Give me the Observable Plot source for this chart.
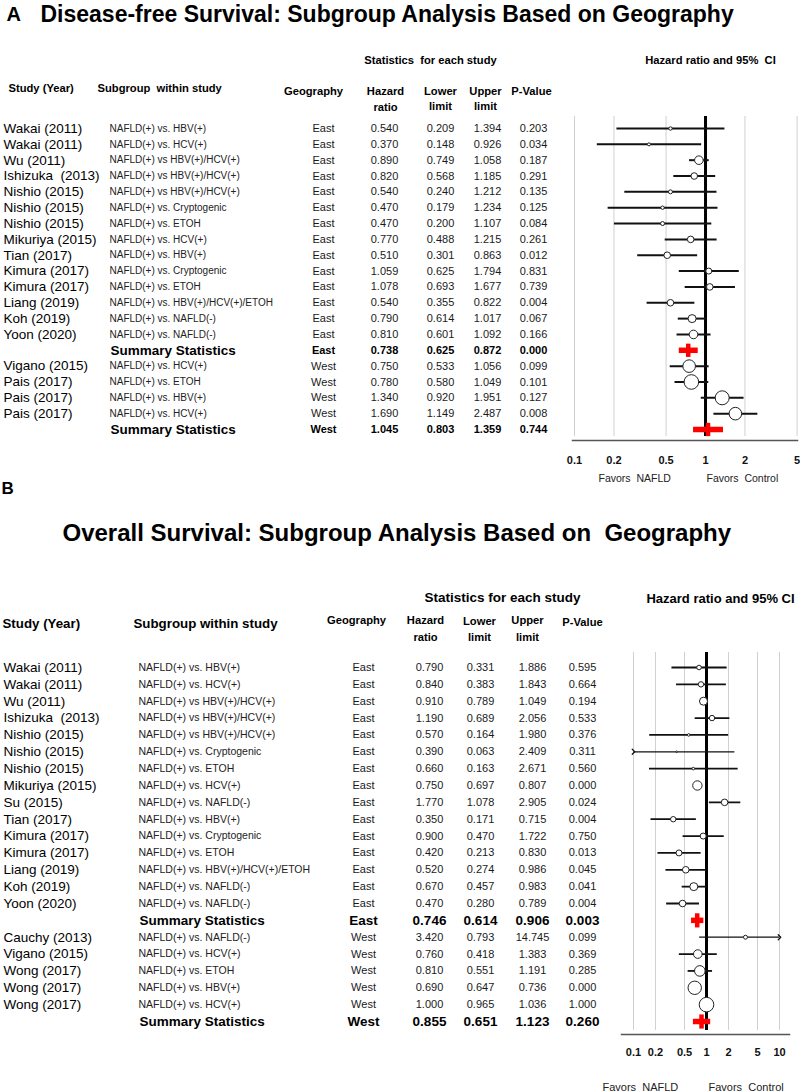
<!DOCTYPE html>
<html><head><meta charset="utf-8">
<script src="https://cdn.jsdelivr.net/npm/d3@7"></script>
<script src="https://cdn.jsdelivr.net/npm/@observablehq/plot@0.6"></script>
<style>
body{margin:0;background:#fff;}
svg{display:block;overflow:visible;}
</style>
</head><body><div id="chart"></div>
<script>
// ---------- Panel A: Disease-free survival ----------
const A_study = ["Wakai (2011)","Wakai (2011)","Wu (2011)","Ishizuka  (2013)","Nishio (2015)","Nishio (2015)","Nishio (2015)","Mikuriya (2015)","Tian (2017)","Kimura (2017)","Kimura (2017)","Liang (2019)","Koh (2019)","Yoon (2020)","","Vigano (2015)","Pais (2017)","Pais (2017)","Pais (2017)",""];
const A_subgroup = ["NAFLD(+) vs. HBV(+)","NAFLD(+) vs. HCV(+)","NAFLD(+) vs HBV(+)/HCV(+)","NAFLD(+) vs HBV(+)/HCV(+)","NAFLD(+) vs HBV(+)/HCV(+)","NAFLD(+) vs. Cryptogenic","NAFLD(+) vs. ETOH","NAFLD(+) vs. HCV(+)","NAFLD(+) vs. HBV(+)","NAFLD(+) vs. Cryptogenic","NAFLD(+) vs. ETOH","NAFLD(+) vs. HBV(+)/HCV(+)/ETOH","NAFLD(+) vs. NAFLD(-)","NAFLD(+) vs. NAFLD(-)","Summary Statistics","NAFLD(+) vs. HCV(+)","NAFLD(+) vs. ETOH","NAFLD(+) vs. HBV(+)","NAFLD(+) vs. HCV(+)","Summary Statistics"];
const A_geo = ["East","East","East","East","East","East","East","East","East","East","East","East","East","East","East","West","West","West","West","West"];
const A_hr    = [0.540,0.370,0.890,0.820,0.540,0.470,0.470,0.770,0.510,1.059,1.078,0.540,0.790,0.810,0.738,0.750,0.780,1.340,1.690,1.045];
const A_lower = [0.209,0.148,0.749,0.568,0.240,0.179,0.200,0.488,0.301,0.625,0.693,0.355,0.614,0.601,0.625,0.533,0.580,0.920,1.149,0.803];
const A_upper = [1.394,0.926,1.058,1.185,1.212,1.234,1.107,1.215,0.863,1.794,1.677,0.822,1.017,1.092,0.872,1.056,1.049,1.951,2.487,1.359];
const A_p     = [0.203,0.034,0.187,0.291,0.135,0.125,0.084,0.261,0.012,0.831,0.739,0.004,0.067,0.166,0.000,0.099,0.101,0.127,0.008,0.744];
const A_weight = [1.7,1.5,4.3,3.3,2,1.7,2,3.3,3.3,3,3.3,3.3,4,4.3,null,6.3,7.3,7,6.3,null]; // marker radius
const A_ticks = [0.1,0.2,0.5,1,2,5];

// ---------- Panel B: Overall survival ----------
const B_study = ["Wakai (2011)","Wakai (2011)","Wu (2011)","Ishizuka  (2013)","Nishio (2015)","Nishio (2015)","Nishio (2015)","Mikuriya (2015)","Su (2015)","Tian (2017)","Kimura (2017)","Kimura (2017)","Liang (2019)","Koh (2019)","Yoon (2020)","","Cauchy (2013)","Vigano (2015)","Wong (2017)","Wong (2017)","Wong (2017)",""];
const B_subgroup = ["NAFLD(+) vs. HBV(+)","NAFLD(+) vs. HCV(+)","NAFLD(+) vs HBV(+)/HCV(+)","NAFLD(+) vs HBV(+)/HCV(+)","NAFLD(+) vs HBV(+)/HCV(+)","NAFLD(+) vs. Cryptogenic","NAFLD(+) vs. ETOH","NAFLD(+) vs. HCV(+)","NAFLD(+) vs. NAFLD(-)","NAFLD(+) vs. HBV(+)","NAFLD(+) vs. Cryptogenic","NAFLD(+) vs. ETOH","NAFLD(+) vs. HBV(+)/HCV(+)/ETOH","NAFLD(+) vs. NAFLD(-)","NAFLD(+) vs. NAFLD(-)","Summary Statistics","NAFLD(+) vs. NAFLD(-)","NAFLD(+) vs. HCV(+)","NAFLD(+) vs. ETOH","NAFLD(+) vs. HBV(+)","NAFLD(+) vs. HCV(+)","Summary Statistics"];
const B_geo = ["East","East","East","East","East","East","East","East","East","East","East","East","East","East","East","East","West","West","West","West","West","West"];
const B_hr    = [0.790,0.840,0.910,1.190,0.570,0.390,0.660,0.750,1.770,0.350,0.900,0.420,0.520,0.670,0.470,0.746,3.420,0.760,0.810,0.690,1.000,0.855];
const B_lower = [0.331,0.383,0.789,0.689,0.164,0.063,0.163,0.697,1.078,0.171,0.470,0.213,0.274,0.457,0.280,0.614,0.793,0.418,0.551,0.647,0.965,0.651];
const B_upper = [1.886,1.843,1.049,2.056,1.980,2.409,2.671,0.807,2.905,0.715,1.722,0.830,0.986,0.983,0.789,0.906,14.745,1.383,1.191,0.736,1.036,1.123];
const B_p     = [0.595,0.664,0.194,0.533,0.376,0.311,0.560,0.000,0.024,0.004,0.750,0.013,0.045,0.041,0.004,0.003,0.099,0.369,0.285,0.000,1.000,0.260];
const B_weight = [2.3,2.7,4,2.7,1.3,0.8,1.3,4.7,3.3,2.7,3,3,3.3,4,3.3,null,2,4.3,5.3,6.7,7.3,null];
const B_ticks = [0.1,0.2,0.5,1,2,5,10];

const FONT = "'Liberation Sans', Arial, Helvetica, sans-serif";
function hasFont(name){
  const c = document.createElement("canvas").getContext("2d");
  const s = "abcdefghijklmnopqrstuvwxyzABCDEF0123456789";
  c.font = "20px monospace"; const a = c.measureText(s).width;
  c.font = `20px "${name}", monospace`; const b = c.measureText(s).width;
  return Math.abs(a-b) > 0.5;
}
const HAS_NARROW = hasFont("Liberation Sans Narrow");
const NARROW = HAS_NARROW ? "'Liberation Sans Narrow', 'Liberation Sans', sans-serif" : FONT;
const nz = (n, r) => HAS_NARROW ? n : r; // size with / without narrow face

function forest(cfg){
  const data = cfg.study.map((s,i)=>({i, study:s, subgroup:cfg.subgroup[i], geo:cfg.geo[i], hr:cfg.hr[i], lower:cfg.lower[i], upper:cfg.upper[i], p:cfg.p[i], size:cfg.weight[i], summary: cfg.subgroup[i]==="Summary Statistics"}));
  const L = cfg.marginLeft, T = cfg.marginTop;
  const [d0,d1] = cfg.xDomain;
  const trials = data.filter(d=>!d.summary);
  const sums = data.filter(d=>d.summary);
  const f3 = v => v.toFixed(3);
  const col = (arr, text, x, o={}) => Plot.text(arr, {y:"i", text, frameAnchor:"left", dx:x-L, textAnchor:o.anchor||"middle", lineAnchor:"middle", fontSize:o.size, fontWeight:o.weight||"normal", fill:o.fill||"#1a1a1a", fontFamily:o.family||FONT});
  const label = (t, x, y, o={}) => Plot.text([t], {frameAnchor:"top-left", dx:x-L, dy:y-T, text:d=>d, textAnchor:o.anchor||"middle", lineAnchor:"middle", fontSize:o.size, fontWeight:o.weight||"bold", fill:o.fill||"#000", fontFamily:o.family||FONT});
  const c = cfg.cols, s = cfg.fonts;
  const marks = [
    Plot.ruleX(cfg.ticks.filter(t=>t!==1), {stroke:"#d0d0d0", strokeWidth:1}),
    Plot.ruleX([1], {stroke:"#000", strokeWidth:3}),
    Plot.frame({anchor:"bottom", stroke:"#555", strokeWidth:1.5, dy:cfg.axisDy}),
    Plot.link(trials.filter(d=>d.lower>=d0 && d.upper<=d1), {x1:"lower", x2:"upper", y1:"i", y2:"i", stroke:"#111", strokeWidth:cfg.ciWidth}),
    Plot.link(trials.filter(d=>d.lower<d0), {x1:"lower", x2:"upper", y1:"i", y2:"i", stroke:"#111", strokeWidth:cfg.ciWidth*0.7, markerStart:"arrow"}),
    Plot.link(trials.filter(d=>d.upper>d1), {x1:"lower", x2:"upper", y1:"i", y2:"i", stroke:"#111", strokeWidth:cfg.ciWidth*0.7, markerEnd:"arrow"}),
    Plot.dot(trials, {x:"hr", y:"i", r:"size", fill:"#fff", stroke:"#222", strokeWidth:1}),
    Plot.link(sums, {x1:"lower", x2:"upper", y1:"i", y2:"i", stroke:"#ff0000", strokeWidth:5.5}),
    Plot.link(sums, {x1:"hr", x2:"hr", y1:d=>d.i-0.42, y2:d=>d.i+0.42, stroke:"#ff0000", strokeWidth:4.5}),
    Plot.text(cfg.ticks, {x:d=>d, frameAnchor:"bottom", dy:cfg.tickDy, text:d=>String(d), fontWeight:"bold", fontSize:cfg.tickFont.size, lineAnchor:"middle", fill:"#111", fontFamily:cfg.tickFont.family}),
    // table columns
    col(trials, "study", c.study, {anchor:"start", size:s.study, fill:"#000"}),
    col(trials, "subgroup", c.subgroup, {anchor:"start", size:s.sub, fill:"#222"}),
    col(trials, "geo", c.geo, {size:s.val}),
    col(trials, d=>f3(d.hr), c.hr, {size:s.val}),
    col(trials, d=>f3(d.lower), c.lower, {size:s.val}),
    col(trials, d=>f3(d.upper), c.upper, {size:s.val}),
    col(trials, d=>f3(d.p), c.p, {size:s.val}),
    col(sums, "subgroup", c.subgroup+1, {anchor:"start", size:s.sumLabel, weight:"bold", fill:"#000"}),
    col(sums, "geo", c.geo, {size:s.sumVal, weight:"bold", fill:"#000"}),
    col(sums, d=>f3(d.hr), c.hr, {size:s.sumVal, weight:"bold", fill:"#000"}),
    col(sums, d=>f3(d.lower), c.lower, {size:s.sumVal, weight:"bold", fill:"#000"}),
    col(sums, d=>f3(d.upper), c.upper, {size:s.sumVal, weight:"bold", fill:"#000"}),
    col(sums, d=>f3(d.p), c.p, {size:s.sumVal, weight:"bold", fill:"#000"}),
    ...cfg.labels.map(([t,x,y,o]) => label(t,x,y,o))
  ];
  return Plot.plot({
    width:800, height:cfg.height,
    marginLeft:cfg.marginLeft, marginRight:cfg.marginRight, marginTop:cfg.marginTop, marginBottom:cfg.marginBottom,
    style:{background:"#fff", fontFamily:FONT, overflow:"visible"},
    x:{type:"log", domain:cfg.xDomain, range:cfg.xRange, clamp:true, axis:null},
    y:{type:"linear", domain:cfg.yDomain, range:cfg.yRange, axis:null},
    r:{type:"identity"},
    marks
  });
}

const hA = {family:NARROW, size:nz(13,11.2)};
const panelA = forest({
  study:A_study, subgroup:A_subgroup, geo:A_geo, hr:A_hr, lower:A_lower, upper:A_upper, p:A_p, weight:A_weight, ticks:A_ticks,
  height:481, marginLeft:572, marginRight:3, marginTop:116, marginBottom:45,
  xDomain:[0.1,5], xRange:[574,796.6], yDomain:[0,19], yRange:[128,429],
  axisDy:4, tickDy:24, ciWidth:2, tickFont:{family:NARROW, size:nz(12.5,11)},
  cols:{study:3, subgroup:109, geo:323, hr:384, lower:440, upper:487, p:533},
  fonts:{study:13.5, sub:10, val:11, sumLabel:13.5, sumVal:11},
  labels:[
    ["A",6,14,{anchor:"start", size:20}],
    ["Disease-free Survival: Subgroup Analysis Based on Geography",40,14,{anchor:"start", size:nz(28.5,23), family:NARROW}],
    ["Statistics  for each study",430,60,hA],
    ["Hazard ratio and 95%  CI",710,60,hA],
    ["Study (Year)",8,88,{anchor:"start", ...hA}],
    ["Subgroup  within study",97,88,{anchor:"start", ...hA}],
    ["Geography",313,91,hA],
    ["Hazard",385,91,hA],["ratio",385,107,hA],
    ["Lower",440,91,hA],["limit",440,106,hA],
    ["Upper",485,91,hA],["limit",485,106,hA],
    ["P-Value",531,91,hA],
    ["Favors  NAFLD",598,478,{anchor:"start", size:nz(11.5,10.5), weight:"normal", fill:"#222", family:NARROW}],
    ["Favors  Control",706,478,{anchor:"start", size:nz(11.5,10.5), weight:"normal", fill:"#222", family:NARROW}]
  ]
});

const panelB = forest({
  study:B_study, subgroup:B_subgroup, geo:B_geo, hr:B_hr, lower:B_lower, upper:B_upper, p:B_p, weight:B_weight, ticks:B_ticks,
  height:610, marginLeft:621, marginRight:11, marginTop:171, marginBottom:61,
  xDomain:[0.1,10], xRange:[633,779], yDomain:[0,21], yRange:[186,540],
  axisDy:4, tickDy:22, ciWidth:1.8, tickFont:{family:FONT, size:11},
  cols:{study:3, subgroup:138, geo:363, hr:429, lower:480, upper:532, p:582},
  fonts:{study:13.5, sub:10.5, val:11, sumLabel:13.5, sumVal:13.5},
  labels:[
    ["B",1,7,{anchor:"start", size:17}],
    ["Overall Survival: Subgroup Analysis Based on  Geography",62,52,{anchor:"start", size:24}],
    ["Statistics for each study",502,116,{size:13.5}],
    ["Hazard ratio and 95% CI",720,117,{size:13}],
    ["Study (Year)",2,142,{anchor:"start", size:13.3}],
    ["Subgroup within study",133,142,{anchor:"start", size:13.3}],
    ["Geography",356,139,{size:11.2}],
    ["Hazard",425,139,{size:11.2}],["ratio",425,156,{size:11.2}],
    ["Lower",479,140,{size:11.2}],["limit",479,156,{size:11.2}],
    ["Upper",527,139,{size:11.2}],["limit",527,156,{size:11.2}],
    ["P-Value",582,141,{size:11.2}],
    ["Favors  NAFLD",602,606,{anchor:"start", size:11, weight:"normal", fill:"#222"}],
    ["Favors  Control",708,606,{anchor:"start", size:11, weight:"normal", fill:"#222"}]
  ]
});

document.getElementById("chart").append(panelA, panelB);
</script>
</body></html>
